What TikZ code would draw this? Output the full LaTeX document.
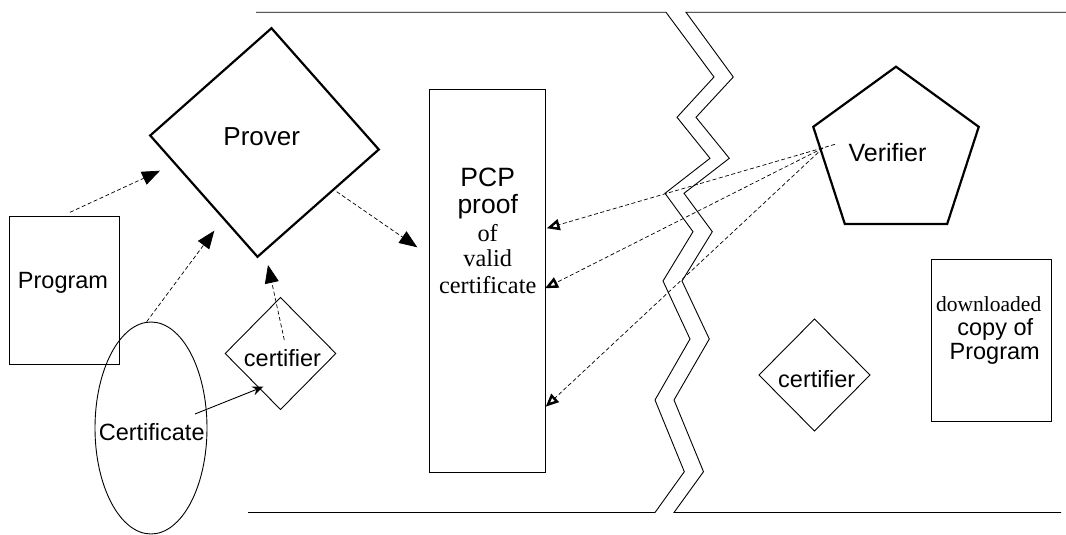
\documentclass[tikz,border=0pt]{standalone}
\usepackage{fontspec}
\setmainfont{Liberation Serif}
\setsansfont{Liberation Sans}
\usetikzlibrary{shapes.geometric,arrows.meta}
\begin{document}
\begin{tikzpicture}[x=1pt,y=-1pt,
  line join=miter,
  thinline/.style={line width=0.9pt},
  boxshape/.style={draw, line width=0.9pt, inner sep=0pt, outer sep=0pt},
  diashape/.style={diamond, draw, line width=0.9pt, inner sep=0pt, outer sep=0pt, aspect=1},
  lbl/.style={font=\sffamily\fontsize{23.5}{26}\selectfont, inner sep=0pt, anchor=base},
  slbl/.style={font=\rmfamily\fontsize{24.3}{27}\selectfont, inner sep=0pt, anchor=base},
  dasharrow/.style={dash pattern=on 4pt off 2.5pt, line width=0.7pt, -{Triangle[length=18pt,width=14pt]}},
  openarrow/.style={dash pattern=on 4pt off 2.5pt, line width=0.7pt, -{Triangle[open,length=13pt,width=11pt,line width=2.4pt]}},
]
\useasboundingbox (0,0) rectangle (1066,535);

% boundary lines with zigzag break
\draw[thinline] (256,12.3) -- (666,12.3) -- (714,77) -- (677,117.3) -- (710,158.3) -- (665,193.3) -- (693,231.7) -- (663,281) -- (690,339) -- (655,400) -- (684.3,471.7) -- (655,512.5) -- (248,512.5);
\draw[thinline] (1066,12.3) -- (686,12.3) -- (733.3,77) -- (696,117.3) -- (729.3,158.3) -- (684,193.3) -- (712.3,231.7) -- (682,281) -- (709.3,339) -- (674,400) -- (703.5,471.7) -- (674,512.5) -- (1061,512.5);

% left side
\node[boxshape, minimum width=110pt, minimum height=147.6pt] (prog) at (64.3,290.5) {};
\node[lbl] (progT) at (63,288.3) {Program};

\node[ellipse, draw, line width=0.9pt, inner sep=0pt, minimum width=112pt, minimum height=212pt] (cert) at (151,428) {};
\node[lbl] (certT) at (151.7,440) {Certificate};

\node[diashape, minimum width=110.6pt, minimum height=112pt] (cfl) at (280.5,353.5) {};
\node[lbl] (cflT) at (282.5,366.7) {certifier};

\node[diamond, draw, line width=2.2pt, inner sep=0pt, outer sep=0pt, aspect=1, minimum width=229pt, minimum height=229pt, rotate=-3.5] (prover) at (264.5,142.5) {};
\node[lbl, font=\sffamily\fontsize{26}{28}\selectfont] (proverT) at (261.7,145.7) {Prover};

% PCP proof
\node[boxshape, minimum width=116pt, minimum height=382.7pt] (pcp) at (487.3,281.3) {};
\node[lbl, font=\sffamily\fontsize{26.5}{28}\selectfont] (pcp1) at (487.7,186.7) {PCP};
\node[lbl, font=\sffamily\fontsize{26.5}{28}\selectfont] (pcp2) at (487.7,213.3) {proof};
\node[slbl] (pcp3) at (487.7,241) {of};
\node[slbl] (pcp4) at (487.7,266.7) {valid};
\node[slbl] (pcp5) at (487.7,293.3) {certificate};

% right side
\node[regular polygon, regular polygon sides=5, draw, line width=2.2pt, inner sep=0pt, minimum size=174pt] (ver) at (896,153.7) {};
\node[lbl, font=\sffamily\fontsize{25}{27}\selectfont] (verT) at (887.5,161.7) {Verifier};

\node[diashape, minimum width=111pt, minimum height=112pt] (cfr) at (814.5,375) {};
\node[lbl] (cfrT) at (816.7,387.3) {certifier};

\node[boxshape, minimum width=120pt, minimum height=162.4pt] (dl) at (991.7,340.5) {};
\node[slbl, font=\rmfamily\fontsize{21.5}{24}\selectfont] (dl1) at (988.7,311.7) {downloaded};
\node[lbl] (dl2) at (995.3,335) {copy of};
\node[lbl] (dl3) at (994.7,359.3) {Program};

% connector end points
\coordinate (a1s) at (70,212.3);
\coordinate (a1e) at (160,170.7);
\coordinate (a2s) at (146.7,321.7);
\coordinate (a2e) at (214.3,230.7);
\coordinate (a3s) at (284.3,340);
\coordinate (a3e) at (268,265);
\coordinate (a4s) at (195,414);
\coordinate (a4e) at (263.3,386.7);
\coordinate (a5s) at (336.7,191.7);
\coordinate (a5e) at (417.3,247.3);
\coordinate (v1) at (835,144.3);
\coordinate (v2) at (823,148);
\coordinate (p1) at (546.7,228.3);
\coordinate (p2) at (545,288.3);
\coordinate (p3) at (545.7,406.7);

\draw[dasharrow] (a1s) -- (a1e);
\draw[dasharrow] (a2s) -- (a2e);
\draw[dasharrow] (a3s) -- (a3e);
\draw[thinline, -{Stealth[length=11pt,width=9pt]}] (a4s) -- (a4e);
\draw[dasharrow] (a5s) -- (a5e);
\draw[openarrow] (v1) -- (p1);
\draw[openarrow] (v2) -- (p2);
\draw[openarrow] (v2) -- (p3);
\end{tikzpicture}
\end{document}
